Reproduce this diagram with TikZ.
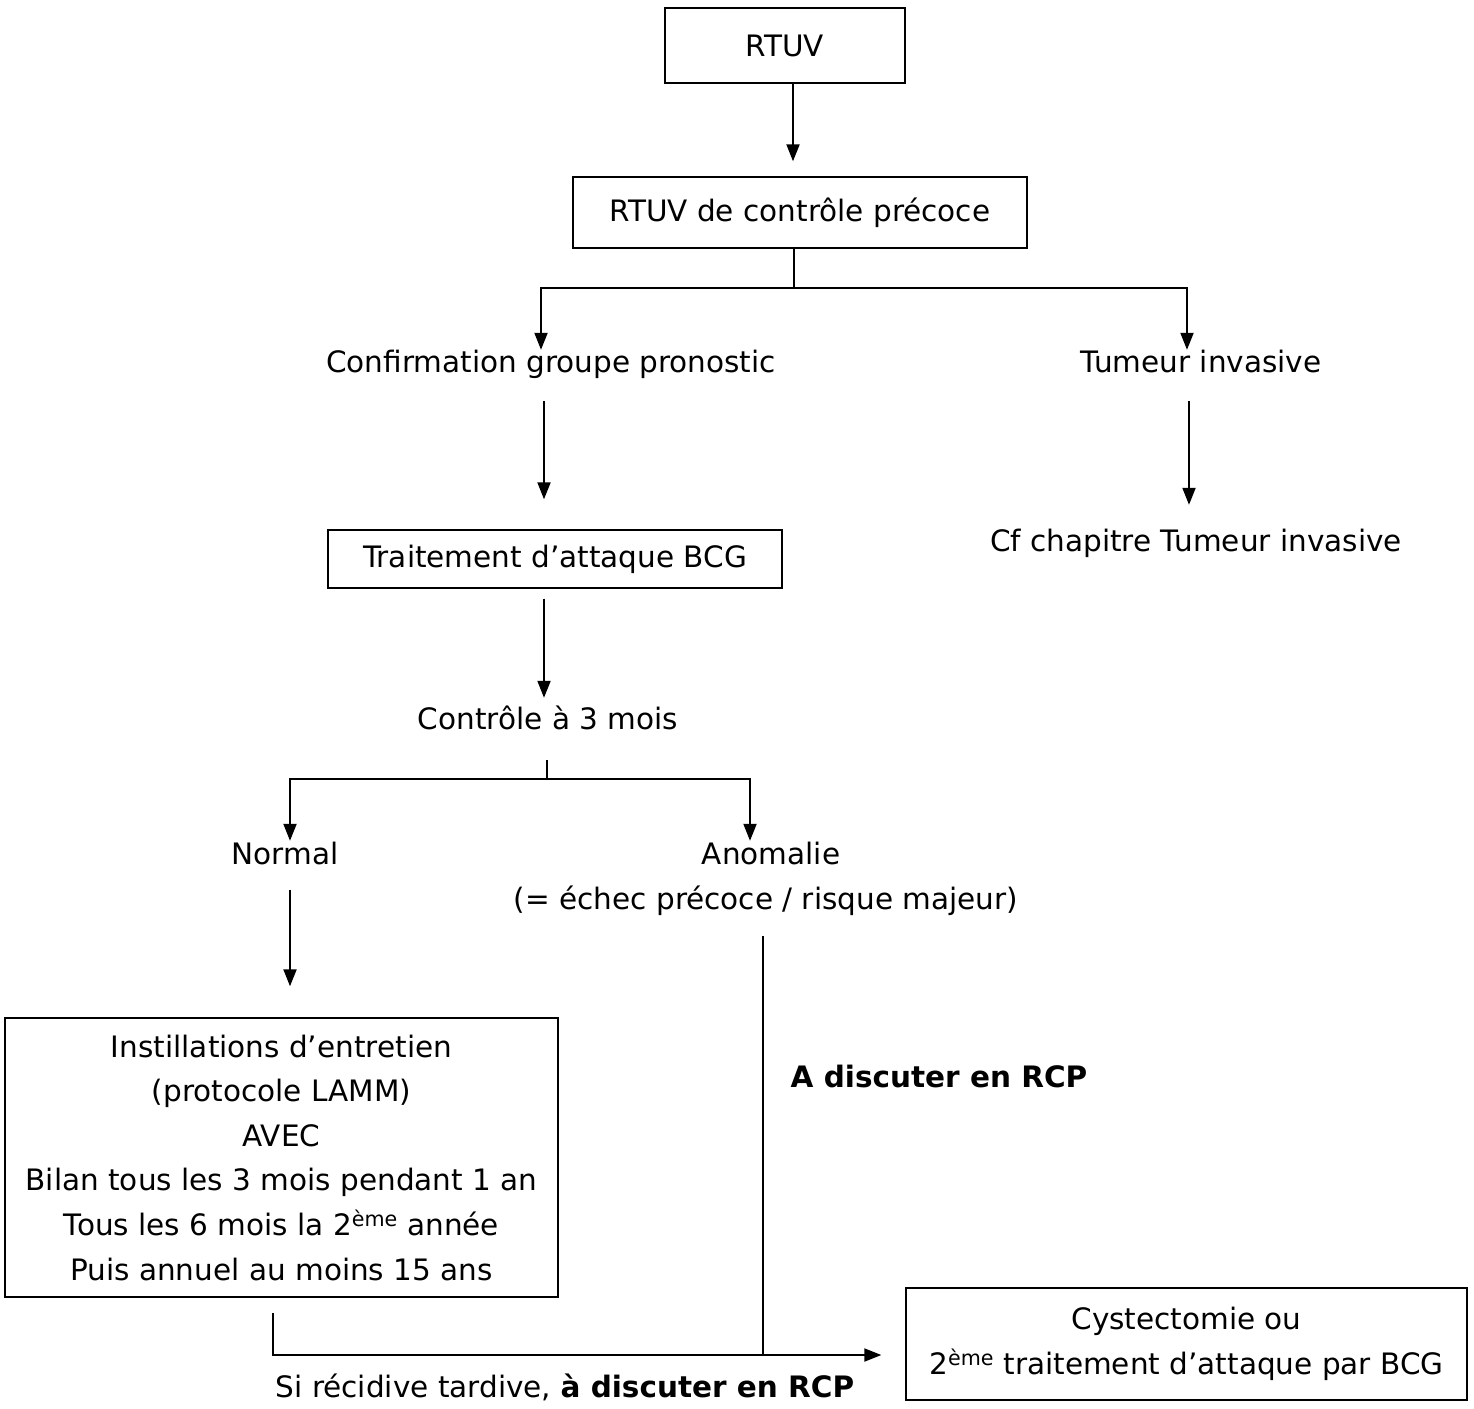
\documentclass[tikz,border=0pt]{standalone}
\usepackage{fontspec}
\setmainfont{DejaVu Sans}
\usetikzlibrary{arrows.meta,calc}
\begin{document}
\begin{tikzpicture}[x=1pt,y=-1pt,
  every node/.style={font=\fontsize{29.5}{44.6}\selectfont, inner sep=0pt},
  box/.style={draw, line width=1.4pt, align=center},
  lbl/.style={text height=22pt, text depth=6pt, align=center},
  arr/.style={line width=2pt, -{Triangle[length=17pt,width=13pt]}},
  ln/.style={line width=2pt}]
\useasboundingbox (0,0) rectangle (1474,1408);

% nodes
\node[box, minimum width=240pt, minimum height=75pt] (rtuv) at (785,45.5) {RTUV};
\node[box, minimum width=454pt, minimum height=71pt] (ctrl) at (800,212.5) {RTUV de contrôle précoce};
\node[lbl] (conf) at (551,364) {Confirmation groupe pronostic};
\node[lbl] (tum) at (1201,364) {Tumeur invasive};
\node[lbl] (cf) at (1196,543) {Cf chapitre Tumeur invasive};
\node[box, minimum width=454pt, minimum height=58pt] (trt) at (555,559) {Traitement d’attaque BCG};
\node[lbl] (c3) at (548,721) {Contrôle à 3 mois};
\node[lbl] (norm) at (285,856) {Normal};
\node[lbl] (anom) at (771,856) {Anomalie};
\node[lbl] (anom2) at (766,901) {(= échec précoce / risque majeur)};
\node[box, minimum width=553pt, minimum height=279pt] (inst) at (281.5,1157.5)
  {Instillations d’entretien\\(protocole LAMM)\\AVEC\\Bilan tous les 3 mois pendant 1 an\\Tous les 6 mois la 2\textsuperscript{ème} année\\Puis annuel au moins 15 ans};
\node[lbl] (disc) at (939,1079) {\textbf{A discuter en RCP}};
\node[box, minimum width=561pt, minimum height=112pt] (cyst) at (1186.5,1344)
  {Cystectomie ou\\2\textsuperscript{ème} traitement d'attaque par BCG};
\node[lbl] (sirec) at (565,1389) {Si récidive tardive, \textbf{à discuter en RCP}};

% junctions
\coordinate (b1) at (794,288);
\coordinate (b2) at (547,779);
\coordinate (j3) at (763,1355);

% connectors
\draw[arr] ([xshift=8pt]rtuv.south) -- ([xshift=-7pt,yshift=15pt]ctrl.north);
\draw[ln] ([xshift=-6pt]ctrl.south) -- (b1);
\draw[arr] (b1) -| ([xshift=-10pt]conf.north);
\draw[arr] (b1) -| ([xshift=-14pt]tum.north);
\draw[arr] ([xshift=-7pt,yshift=-23pt]conf.south) -- ([xshift=-11pt,yshift=30pt]trt.north);
\draw[arr] ([xshift=-12pt,yshift=-23pt]tum.south) -- ([xshift=-7pt,yshift=24pt]cf.north);
\draw[arr] ([xshift=-11pt,yshift=-10pt]trt.south) -- ([xshift=-4pt,yshift=9pt]c3.north);
\draw[ln] ([xshift=-1pt,yshift=-25pt]c3.south) -- (b2);
\draw[arr] (b2) -| ([xshift=5pt,yshift=1pt]norm.north);
\draw[arr] (b2) -| ([xshift=-21pt,yshift=1pt]anom.north);
\draw[arr] ([xshift=5pt,yshift=-20pt]norm.south) -- ([xshift=8.5pt,yshift=31pt]inst.north);
\draw[ln] ([xshift=-3pt,yshift=-21pt]anom2.south) -- (j3);
\draw[arr] ([xshift=-8.5pt,yshift=-15pt]inst.south) |- (j3) -- ([xshift=-24pt]cyst.west |- j3);
\end{tikzpicture}
\end{document}
